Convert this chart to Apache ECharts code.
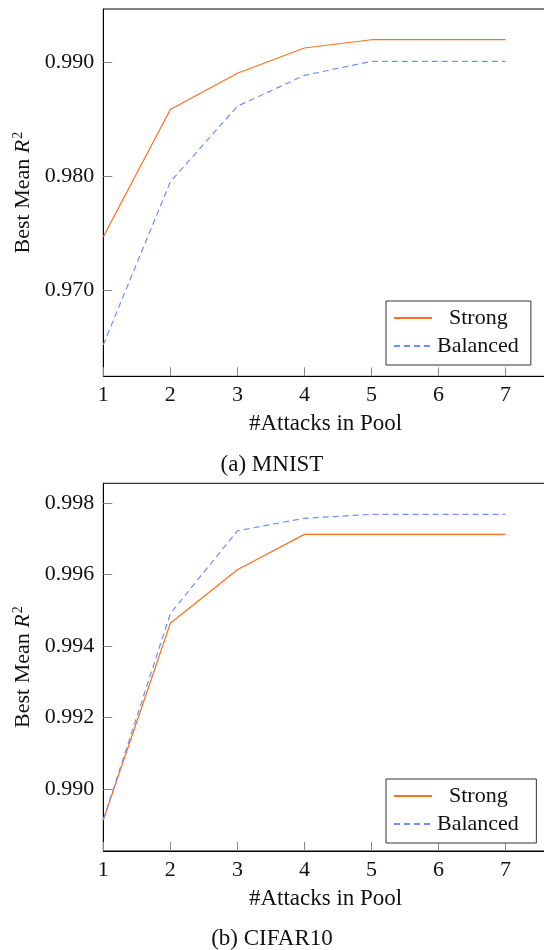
<!DOCTYPE html>
<html><head><meta charset="utf-8">
<script src="https://cdn.jsdelivr.net/npm/echarts@6/dist/echarts.min.js"></script>
<style>html,body{margin:0;padding:0;background:#fff}#c{width:544px;height:950px}</style>
</head><body><div id="c"></div>
<script>
const xValues = [1, 2, 3, 4, 5, 6, 7];
const xTicks = [1, 2, 3, 4, 5, 6, 7];
const mnistStrong   = [0.9747, 0.98588, 0.98907, 0.99129, 0.99202, 0.99202, 0.99202];
const mnistBalanced = [0.9652, 0.97954, 0.98617, 0.98889, 0.99012, 0.99012, 0.99012];
const cifarStrong   = [0.98913, 0.99464, 0.99614, 0.99713, 0.99713, 0.99713, 0.99713];
const cifarBalanced = [0.98913, 0.99491, 0.99723, 0.99758, 0.99769, 0.99769, 0.99769];
const mnistYTicks = [0.970, 0.980, 0.990];
const cifarYTicks = [0.990, 0.992, 0.994, 0.996, 0.998];
const seriesNames = ['Strong', 'Balanced'];
const captions = ['(a) MNIST', '(b) CIFAR10'];
const xTitle = '#Attacks in Pool';

const FONT = 'Liberation Serif';
const ORANGE = '#ff6f1f';
const BLUE = '#6f90ff';
const pairs = (ys) => xValues.map((x, i) => [x, ys[i]]);

const chart = echarts.init(document.getElementById('c'), null, {renderer: 'canvas'});

function xAxis(gi) {
  return {
    type: 'value', gridIndex: gi, min: 1, max: 7.72,
    axisLine: {show: true, lineStyle: {color: '#000', width: 1}},
    axisTick: {show: true, inside: true, length: 9, customValues: xTicks, lineStyle: {color: '#888'}},
    axisLabel: {show: true, customValues: xTicks, margin: 8, fontFamily: FONT, fontSize: 22, color: '#111', formatter: v => String(v)},
    splitLine: {show: false},
    name: xTitle, nameLocation: 'middle', nameGap: 36,
    nameTextStyle: {fontFamily: FONT, fontSize: 23, color: '#111', padding: [0, 6, 0, 0]}
  };
}
function yAxis(gi, min, max, ticks) {
  return {
    type: 'value', gridIndex: gi, min: min, max: max,
    axisLine: {show: true, lineStyle: {color: '#000', width: 1}},
    axisTick: {show: true, inside: true, length: 9, customValues: ticks, lineStyle: {color: '#888'}},
    axisLabel: {show: true, customValues: ticks, margin: 9, fontFamily: FONT, fontSize: 22, color: '#111', formatter: v => v.toFixed(3)},
    splitLine: {show: false},
    name: 'Best Mean {i|R}{s|2}', nameLocation: 'middle', nameGap: 68, nameRotate: 90,
    nameTextStyle: {fontFamily: FONT, fontSize: 22, color: '#111',
      rich: {i: {fontFamily: FONT, fontSize: 22, fontStyle: 'italic', color: '#111'},
             s: {fontFamily: FONT, fontSize: 14, color: '#111', verticalAlign: 'top', padding: [0, 0, 10, 1]}}}
  };
}
function legend(gi, top) {
  return {
    show: true, orient: 'vertical', left: 386, top: top,
    data: [{name: seriesNames[0] + (gi ? ' ' : ''), textStyle: {padding: [0, 0, 0, 12]}},
           {name: seriesNames[1] + (gi ? ' ' : '')}],
    itemWidth: 38, itemHeight: 14, itemGap: 6,
    itemStyle: {opacity: 0},
    padding: [6, 12, 8, 7], borderColor: '#333', borderWidth: 1, backgroundColor: '#fff',
    textStyle: {fontFamily: FONT, fontSize: 22, color: '#111'},
    selectedMode: false
  };
}
function line(name, xi, data, color, dashed) {
  return {
    type: 'line', name: name, xAxisIndex: xi, yAxisIndex: xi, data: pairs(data),
    symbol: 'none', lineStyle: {color: color, width: 1.2, type: dashed ? [6, 4] : 'solid'},
    itemStyle: {color: color}, animation: false, z: 3
  };
}

chart.setOption({
  animation: false,
  backgroundColor: '#fff',
  grid: [
    {left: 103.3, top: 9, width: 450.5, height: 367.3, show: true, borderColor: '#000', borderWidth: 1, containLabel: false, outerBoundsMode: 'none'},
    {left: 103.3, top: 483.3, width: 450.5, height: 367.7, show: true, borderColor: '#000', borderWidth: 1, containLabel: false, outerBoundsMode: 'none'}
  ],
  xAxis: [xAxis(0), xAxis(1)],
  yAxis: [yAxis(0, 0.96244, 0.99472, mnistYTicks), yAxis(1, 0.98826, 0.99856, cifarYTicks)],
  legend: [legend(0, 301), legend(1, 779)],
  title: [
    {text: captions[0], left: 272, top: 453, textAlign: 'center', textStyle: {fontFamily: FONT, fontSize: 23, fontWeight: 'normal', color: '#111'}, padding: 0},
    {text: captions[1], left: 272, top: 927, textAlign: 'center', textStyle: {fontFamily: FONT, fontSize: 23, fontWeight: 'normal', color: '#111'}, padding: 0}
  ],
  series: [
    line(seriesNames[0], 0, mnistStrong, ORANGE, false),
    line(seriesNames[1], 0, mnistBalanced, BLUE, true),
    line(seriesNames[0] + ' ', 1, cifarStrong, ORANGE, false),
    line(seriesNames[1] + ' ', 1, cifarBalanced, BLUE, true)
  ]
});
</script></body></html>
